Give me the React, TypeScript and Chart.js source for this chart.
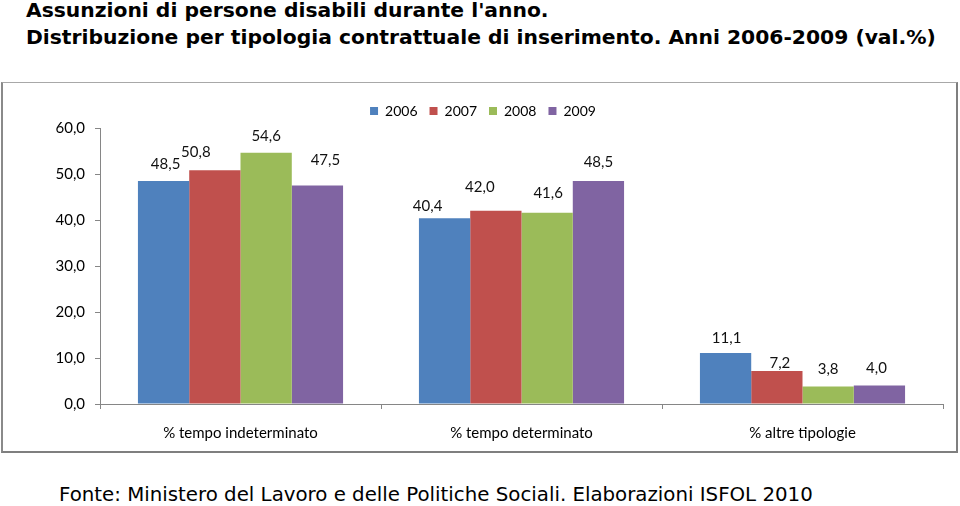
import React, { useEffect, useRef } from "react";
import { Chart, registerables } from "chart.js";

Chart.register(...registerables);

const titleLines = [
  "Assunzioni di persone disabili durante l'anno.",
  "Distribuzione per tipologia contrattuale di inserimento. Anni 2006-2009 (val.%)",
];
const sourceNote = "Fonte: Ministero del Lavoro e delle Politiche Sociali. Elaborazioni ISFOL 2010";

const categories = ["% tempo indeterminato", "% tempo determinato", "% altre tipologie"];
const seriesNames = ["2006", "2007", "2008", "2009"];
const values2006 = [48.5, 40.4, 11.1];
const values2007 = [50.8, 42.0, 7.2];
const values2008 = [54.6, 41.6, 3.8];
const values2009 = [47.5, 48.5, 4.0];
const seriesColors = ["#4F81BD", "#C0504D", "#9BBB59", "#8064A2"];
const yTicks = [0, 10, 20, 30, 40, 50, 60];

// manual nudges of the value labels (px), as moved in the original
const labelNudges = [
  [[2, 0], [-17, 5], [1, 2]],
  [[-19, -1], [-16, -7], [3, 9]],
  [[0, 0], [1, -2], [0, 0]],
  [[8, -8], [0, -2], [-3, 0]],
];

const fmt = (v: number) => v.toFixed(1).replace(".", ",");
const FONT = "Lato";

const valueLabels = {
  id: "valueLabels",
  afterDatasetsDraw(chart: any) {
    const ctx = chart.ctx;
    ctx.save();
    ctx.font = `15px ${FONT}`;
    ctx.fillStyle = "#111";
    ctx.textAlign = "center";
    ctx.textBaseline = "middle";
    chart.data.datasets.forEach((ds: any, i: number) => {
      const meta = chart.getDatasetMeta(i);
      meta.data.forEach((bar: any, j: number) => {
        const n = labelNudges[i][j];
        ctx.fillText(fmt(ds.data[j]), bar.x + n[0], bar.y - 17 + n[1]);
      });
    });
    ctx.restore();
  },
};

export default function App() {
  const ref = useRef<HTMLCanvasElement>(null);
  useEffect(() => {
    if (!ref.current) return;
    const allValues = [values2006, values2007, values2008, values2009];
    const chart = new Chart(ref.current, {
      type: "bar",
      data: {
        labels: categories,
        datasets: seriesNames.map((name, i) => ({
          label: name,
          data: allValues[i],
          backgroundColor: seriesColors[i],
          borderWidth: 0,
          categoryPercentage: 0.73,
          barPercentage: 1.0,
        })),
      },
      options: {
        animation: false,
        responsive: false,
        devicePixelRatio: 1,
        layout: { padding: { top: 9, right: 13, bottom: 7, left: 20 } },
        plugins: {
          tooltip: { enabled: false },
          legend: {
            position: "top",
            align: "center",
            labels: {
              boxWidth: 8,
              boxHeight: 8,
              padding: 12,
              color: "#000",
              font: { family: FONT, size: 14 },
            },
          },
        },
        scales: {
          x: {
            type: "category",
            afterFit: (scale: any) => {
              scale.height = 40;
            },
            grid: {
              offset: true,
              drawOnChartArea: false,
              drawTicks: true,
              tickLength: 5,
              color: "#868686",
            },
            border: { color: "#868686", width: 1 },
            ticks: { color: "#000", font: { family: FONT, size: 15 }, padding: 15 },
          },
          y: {
            min: 0,
            max: 60,
            afterBuildTicks: (scale: any) => {
              scale.ticks = yTicks.map((v) => ({ value: v }));
            },
            afterFit: (scale: any) => {
              scale.width = 77;
            },
            grid: {
              drawOnChartArea: false,
              drawTicks: true,
              tickLength: 5,
              color: "#868686",
            },
            border: { color: "#868686", width: 1 },
            ticks: {
              color: "#000",
              font: { family: FONT, size: 15 },
              padding: 10,
              callback: (v: any) => fmt(Number(v)),
            },
          },
        },
      },
      plugins: [valueLabels],
    });
    return () => chart.destroy();
  }, []);

  return (
    <div style={{ position: "absolute", left: 0, top: 0, width: 960, height: 506, background: "#fff", overflow: "hidden" }}>
      <div
        style={{
          position: "absolute",
          left: 26,
          top: -3,
          fontFamily: "'DejaVu Sans', sans-serif",
          fontWeight: "bold",
          fontSize: 20.3,
          lineHeight: "26.5px",
          whiteSpace: "nowrap",
          color: "#000",
        }}
      >
        {titleLines.map((t, i) => (
          <div key={i}>{t}</div>
        ))}
      </div>
      <div
        style={{
          position: "absolute",
          left: 1,
          top: 82,
          width: 957,
          height: 371,
          boxSizing: "border-box",
          borderStyle: "solid",
          borderColor: "#a8a8a8 #7f7f7f #7f7f7f #8a8a8a",
          borderWidth: "1px 2px 2px 2px",
        }}
      >
        <canvas ref={ref} width={953} height={368} style={{ display: "block", width: 953, height: 368 }} />
      </div>
      <div
        style={{
          position: "absolute",
          left: 59,
          top: 483,
          fontFamily: "'DejaVu Sans', sans-serif",
          fontSize: 19.8,
          lineHeight: "24px",
          whiteSpace: "nowrap",
          color: "#000",
        }}
      >
        {sourceNote}
      </div>
    </div>
  );
}
